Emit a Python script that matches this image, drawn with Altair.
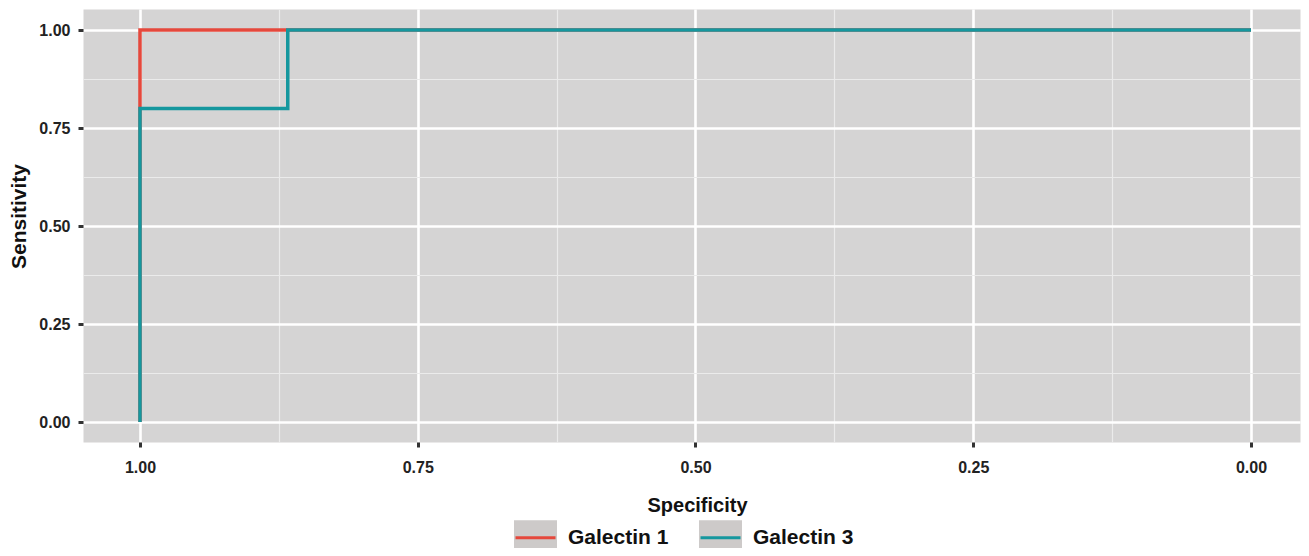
import altair as alt
import pandas as pd

series_names = ["Galectin 1", "Galectin 3"]
g1_spec = [1.0, 1.0, 1.0, 0.0]
g1_sens = [0.0, 0.8, 1.0, 1.0]
g3_spec = [1.0, 1.0, 0.867, 0.867, 0.0]
g3_sens = [0.0, 0.8, 0.8, 1.0, 1.0]
tick_values = [1.0, 0.875, 0.75, 0.625, 0.5, 0.375, 0.25, 0.125, 0.0]
line_colors = ["#e5483c", "#15979e"]
key_colors = ["#cdcac9", "#cdcac9"]

rows = []
for name, sp, se in [(series_names[0], g1_spec, g1_sens), (series_names[1], g3_spec, g3_sens)]:
    for i, (a, b) in enumerate(zip(sp, se)):
        rows.append({"series": name, "step": i, "specificity": a, "sensitivity": b})
df = pd.DataFrame(rows)

FONT = "Liberation Sans"
minor = "abs(datum.value*4 - round(datum.value*4)) > 0.01"


def axis(**kw):
    opts = dict(
        values=tick_values,
        labelExpr=f"{minor} ? '' : format(datum.value, '.2f')",
        domain=False,
        tickSize=5,
        tickWidth=3,
        tickColor={"condition": {"test": minor, "value": "transparent"}, "value": "#333333"},
        gridColor={"condition": {"test": minor, "value": "#ebebeb"}, "value": "#ffffff"},
        gridWidth={"condition": {"test": minor, "value": 1.2}, "value": 2.6},
        labelFont=FONT,
        labelFontSize=16,
        labelFontWeight="bold",
        labelColor="#222222",
        titleFont=FONT,
        titleFontSize=20,
        titleFontWeight="bold",
        titleColor="#111111",
        titleBaseline="alphabetic",
    )
    opts.update(kw)
    return alt.Axis(**opts)


x_axis = axis(title="Specificity", labelPadding=12, titleX=614, titleY=69)
y_axis = axis(title="Sensitivity", labelPadding=8, titleX=-58, titleY=207, titleAngle=270,
              titleFontSize=21)

x_scale = alt.Scale(domain=[1.0513, -0.0441], nice=False, zero=False)
y_scale = alt.Scale(domain=[-0.051, 1.0536], nice=False, zero=False)

legend_common = dict(
    title=None,
    orient="none",
    legendX=431,
    legendY=507,
    direction="horizontal",
    symbolSize=1600,
    symbolStrokeWidth=3,
    labelFont=FONT,
    labelFontSize=21,
    labelFontWeight="bold",
    labelOffset=11,
    columnPadding=25,
    padding=0,
)

keys = alt.Chart(df).mark_square(opacity=0, size=1).encode(
    x=alt.X("specificity:Q", scale=x_scale, axis=x_axis),
    y=alt.Y("sensitivity:Q", scale=y_scale, axis=y_axis),
    fill=alt.Fill(
        "series:N",
        scale=alt.Scale(domain=series_names, range=key_colors),
        legend=alt.Legend(symbolType="M-1,-0.8H1V0.8H-1Z", symbolStrokeColor="#cdcac9",
                          symbolOpacity=1, labelColor="transparent", zindex=1,
                          **legend_common),
    ),
)

lines = alt.Chart(df).mark_line(strokeWidth=3.5, strokeJoin="miter").encode(
    x=alt.X("specificity:Q", scale=x_scale, axis=x_axis),
    y=alt.Y("sensitivity:Q", scale=y_scale, axis=y_axis),
    stroke=alt.Stroke(
        "series:N",
        scale=alt.Scale(domain=series_names, range=line_colors),
        legend=alt.Legend(symbolType="stroke", labelColor="#111111", zindex=2,
                          **legend_common),
    ),
    order=alt.Order("step:Q"),
)

chart = alt.layer(keys, lines).resolve_scale(fill="independent", stroke="independent").properties(
    width=1217,
    height=433,
    padding={"left": 75, "top": 1, "right": 1, "bottom": 106},
    autosize=alt.AutoSizeParams(type="none"),
    background="white",
).configure_view(fill="#d5d4d4", stroke="transparent")

chart.save("out.html", embed_options={"renderer": "svg", "actions": False})
